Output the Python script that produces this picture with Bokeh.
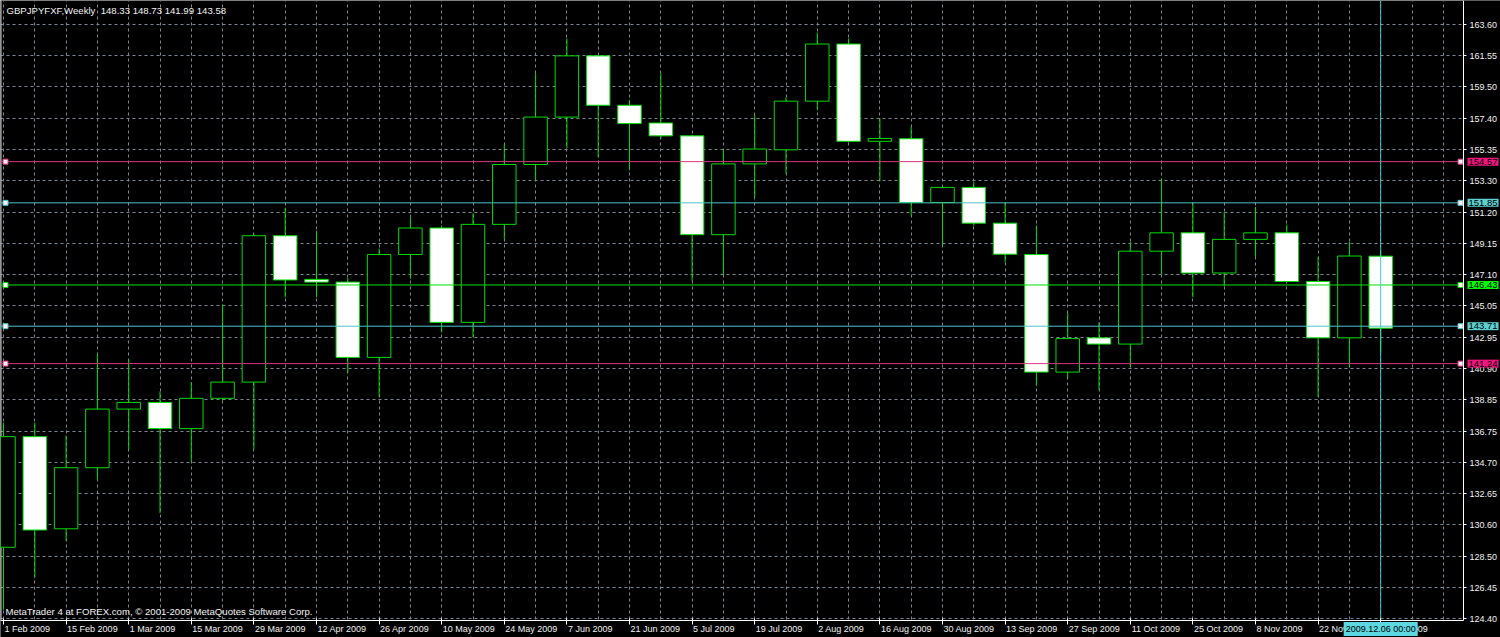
from bokeh.plotting import figure
from bokeh.models import (Range1d, FixedTicker, LinearAxis, Label, BoxAnnotation,
                          PrintfTickFormatter, ColumnDataSource)
from bokeh.embed import file_html
from bokeh.resources import INLINE

# ---------------- data ----------------
symbol_title = "GBPJPYFXF,Weekly\u00a0\u00a0148.33 148.73 141.99 143.58"
copyright_text = "MetaTrader 4 at FOREX.com, \u00a9 2001-2009 MetaQuotes Software Corp."

opens = [129.12, 136.42, 130.34, 134.37, 138.24, 138.68, 136.95, 138.95, 140.02, 149.68,
         146.80, 146.62, 141.65, 148.44, 150.19, 143.96, 150.43, 154.38, 157.51, 161.55,
         158.29, 157.12, 156.27, 149.75, 154.42, 155.35, 158.56, 162.33, 155.91, 156.08,
         151.87, 152.87, 150.51, 148.44, 140.68, 142.94, 142.53, 148.66, 149.87, 147.22,
         149.44, 149.87, 146.66, 142.94, 148.33]
highs = [137.34, 137.34, 136.49, 141.89, 141.53, 139.41, 140.02, 145.13, 149.80, 151.53,
         150.00, 146.90, 148.83, 150.90, 150.36, 151.16, 155.71, 160.41, 162.70, 161.60,
         158.63, 160.41, 156.35, 155.35, 157.66, 158.80, 163.09, 162.70, 157.42, 156.86,
         152.90, 153.23, 151.89, 150.36, 144.57, 143.96, 149.27, 153.45, 151.89, 151.26,
         151.58, 150.41, 148.29, 149.27, 148.73]
lows = [125.00, 127.12, 129.56, 133.62, 135.57, 131.38, 134.79, 138.80, 135.59, 145.62,
        145.62, 140.63, 139.05, 146.83, 143.30, 142.99, 149.46, 153.35, 155.47, 154.86,
        154.01, 156.08, 146.69, 147.08, 152.19, 153.77, 157.98, 155.85, 153.28, 151.02,
        149.02, 150.34, 147.93, 139.78, 140.26, 139.49, 141.00, 147.13, 145.62, 146.35,
        148.29, 146.60, 139.05, 141.00, 141.99]
closes = [136.42, 130.26, 134.37, 138.24, 138.68, 136.95, 138.95, 140.02, 149.68, 146.76,
          146.62, 141.65, 148.44, 150.19, 143.96, 150.43, 154.38, 157.51, 161.55, 158.29,
          157.08, 156.27, 149.75, 154.42, 155.40, 158.56, 162.33, 155.91, 156.10, 151.87,
          152.87, 150.51, 148.46, 140.68, 142.89, 142.53, 148.66, 149.87, 147.22, 149.44,
          149.87, 146.66, 142.94, 148.34, 143.58]

date_tick_index = [0, 2, 4, 6, 8, 10, 12, 14, 16, 18, 20, 22, 24, 26, 28, 30, 32, 34, 36, 38, 40, 42, 44]
date_tick_labels = ["1 Feb 2009", "15 Feb 2009", "1 Mar 2009", "15 Mar 2009", "29 Mar 2009",
                    "12 Apr 2009", "26 Apr 2009", "10 May 2009", "24 May 2009", "7 Jun 2009",
                    "21 Jun 2009", "5 Jul 2009", "19 Jul 2009", "2 Aug 2009", "16 Aug 2009",
                    "30 Aug 2009", "13 Sep 2009", "27 Sep 2009", "11 Oct 2009", "25 Oct 2009",
                    "8 Nov 2009", "22 Nov 2009", "6 Dec 2009"]

price_ticks = [124.40, 126.45, 128.50, 130.60, 132.65, 134.70, 136.75, 138.85, 140.90, 142.95,
               145.05, 147.10, 149.15, 151.20, 153.30, 155.35, 157.40, 159.50, 161.55, 163.60]

level_prices = [154.57, 151.85, 146.43, 143.71, 141.24]
level_line_colors = ["#d8357f", "#4fc3c8", "#00e000", "#4fc3c8", "#d8357f"]
level_label_colors = ["#f0157f", "#5ed0d0", "#00ff00", "#5ed0d0", "#f0157f"]

cursor_index = 44
cursor_label = "2009.12.06 00:00"

# ---------------- layout / style ----------------
W, H = 1500, 637
PX_X = 31.3          # pixels per weekly bar
PX_Y = 15.153        # pixels per price unit
x_start = -3.0 / PX_X
x_end = x_start + W / PX_X
price_axis_x = x_start + 1463.0 / PX_X          # right price scale position
y_end = 163.60 + 24.3 / PX_Y
y_start = y_end - H / PX_Y
time_axis_y = y_end - 620.0 / PX_Y              # bottom time scale position

FONT = "Liberation Sans"
FS = "9px"
FS_NOTE = "9.6px"
GREEN = "#00dc00"
TXT = "#f2f2f2"
GRID = "#7d8690"

p = figure(width=W, height=H, x_range=Range1d(x_start, x_end), y_range=Range1d(y_start, y_end),
           output_backend="svg", toolbar_location=None, y_axis_location="right",
           x_axis_location=None, min_border_left=0, min_border_top=0,
           min_border_right=0, min_border_bottom=0,
           background_fill_color="black", border_fill_color="black",
           outline_line_color=None)

# grids
p.xgrid.ticker = FixedTicker(ticks=list(range(0, 47)))
p.ygrid.ticker = FixedTicker(ticks=price_ticks)
for g in (p.xgrid, p.ygrid):
    g.grid_line_color = GRID
    g.grid_line_dash = "3 3"
    g.grid_line_width = 1

# mask grid outside the chart window (scale areas)
p.add_layout(BoxAnnotation(left=price_axis_x, fill_color="black", fill_alpha=1,
                           line_color=None, level="underlay"))
p.add_layout(BoxAnnotation(top=time_axis_y, fill_color="black", fill_alpha=1,
                           line_color=None, level="underlay"))

# right price axis
ya = p.yaxis[0]
ya.fixed_location = price_axis_x
ya.bounds = (time_axis_y, y_end)
ya.ticker = FixedTicker(ticks=price_ticks)
ya.formatter = PrintfTickFormatter(format="%.2f")
ya.axis_line_color = "white"
ya.major_tick_line_color = "white"
ya.major_tick_out = 3
ya.major_tick_in = 0
ya.minor_tick_line_color = None
ya.major_label_standoff = 3
ya.major_label_text_color = TXT
ya.major_label_text_font = FONT
ya.major_label_text_font_size = FS

# bottom axis: tick marks
ax_ticks = LinearAxis(ticker=FixedTicker(ticks=date_tick_index),
                      major_label_overrides={i: "" for i in date_tick_index},
                      fixed_location=time_axis_y, bounds=(x_start, price_axis_x))
ax_ticks.axis_line_color = "white"
ax_ticks.major_tick_line_color = "white"
ax_ticks.major_tick_out = 4
ax_ticks.major_tick_in = 2
ax_ticks.minor_tick_line_color = None
ax_ticks.major_label_standoff = 0
ax_ticks.major_label_text_font_size = "1px"
p.add_layout(ax_ticks, "below")

# bottom axis: left-aligned date labels (anchor shifted by half the label width)
ARIAL = {' ': 278, 'A': 667, 'D': 722, 'F': 611, 'J': 500, 'M': 833, 'N': 722, 'O': 778,
         'S': 667, 'a': 556, 'b': 556, 'c': 500, 'e': 556, 'g': 556, 'l': 222, 'n': 556,
         'o': 556, 'p': 556, 'r': 333, 't': 278, 'u': 556, 'v': 500, 'y': 500}
label_pos = []
for i, t in zip(date_tick_index, date_tick_labels):
    w = sum(ARIAL.get(ch, 556) for ch in t) * 9 / 1000.0
    label_pos.append(round(i + (1.0 + w / 2.0) / PX_X, 4))
ax_lab = LinearAxis(ticker=FixedTicker(ticks=label_pos),
                    major_label_overrides={pos: t for pos, t in zip(label_pos, date_tick_labels)},
                    fixed_location=time_axis_y)
ax_lab.axis_line_color = None
ax_lab.major_tick_line_color = None
ax_lab.major_tick_out = 0
ax_lab.major_tick_in = 0
ax_lab.minor_tick_line_color = None
ax_lab.major_label_standoff = 3
ax_lab.major_label_text_color = TXT
ax_lab.major_label_text_font = FONT
ax_lab.major_label_text_font_size = FS
p.add_layout(ax_lab, "below")

# left window border
p.segment(x0=[x_start + 0.5 / PX_X], y0=[time_axis_y], x1=[x_start + 0.5 / PX_X], y1=[y_end],
          line_color="#d0d0d0", line_width=1)

# candles
idx = list(range(len(opens)))
src = ColumnDataSource(dict(
    x=idx, o=opens, h=highs, l=lows, c=closes,
    top=[max(o, c) for o, c in zip(opens, closes)],
    bottom=[min(o, c) for o, c in zip(opens, closes)],
    fill=["black" if c >= o else "white" for o, c in zip(opens, closes)],
))
p.segment(x0="x", y0="l", x1="x", y1="h", source=src, line_color=GREEN, line_width=1)
p.vbar(x="x", width=0.75, top="top", bottom="bottom", fill_color="fill",
       line_color=GREEN, line_width=1, source=src)

# horizontal levels (drawn over the candles, inside the chart window)
n = len(level_prices)
p.segment(x0=[x_start] * n, y0=level_prices, x1=[price_axis_x] * n, y1=level_prices,
          line_color=level_line_colors, line_width=1)
# vertical cursor line
p.segment(x0=[cursor_index], y0=[time_axis_y], x1=[cursor_index], y1=[y_end],
          line_color="#45c8d0", line_width=1)

# selection squares at line ends
sq_x = [x_start + 5.0 / PX_X] * n + [price_axis_x - 3.0 / PX_X] * n
sq_y = level_prices + level_prices
sq_c = level_line_colors + level_line_colors
p.scatter(x=sq_x, y=sq_y, marker="square", size=5, fill_color="#fff0f8",
          line_color=sq_c, line_width=1)

# price labels on the right scale
for pr, bc in zip(level_prices, level_label_colors):
    p.add_layout(Label(x=price_axis_x, y=pr, x_offset=4, text=f"{pr:.2f}", text_align="left",
                       text_baseline="middle", text_color="black", text_font=FONT,
                       text_font_size="9.5px", background_fill_color=bc, padding=1))

# cursor date label
p.add_layout(Label(x=cursor_index, y=time_axis_y, y_offset=-8.5, text=cursor_label,
                   text_align="center", text_baseline="middle", text_color="black",
                   text_font=FONT, text_font_size=FS, background_fill_color="#5ed8e0", padding=2))

# title and copyright
p.add_layout(Label(x=x_start, y=y_end, x_offset=6, y_offset=-4, text=symbol_title,
                   text_align="left", text_baseline="top", text_color=TXT,
                   text_font=FONT, text_font_size=FS_NOTE))
p.add_layout(Label(x=x_start, y=time_axis_y, x_offset=5, y_offset=4, text=copyright_text,
                   text_align="left", text_baseline="bottom", text_color=TXT,
                   text_font=FONT, text_font_size=FS_NOTE))

open("out.html", "w").write(file_html(p, INLINE))
